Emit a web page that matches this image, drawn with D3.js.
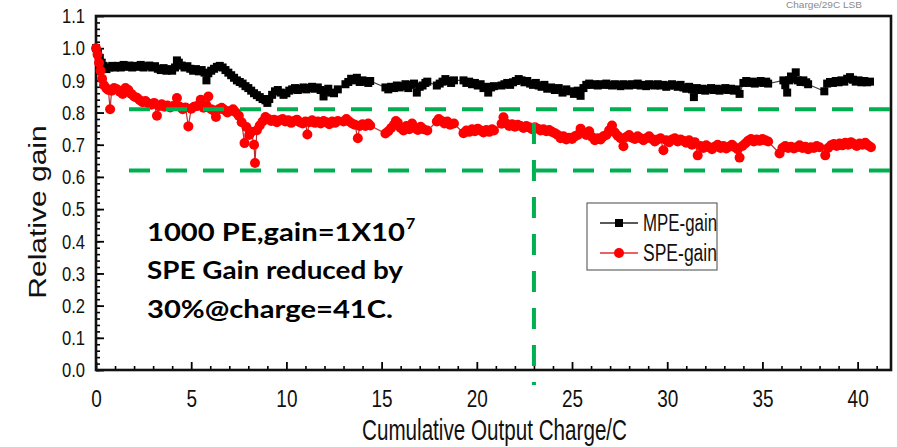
<!DOCTYPE html>
<html>
<head>
<meta charset="utf-8">
<script src="https://cdn.jsdelivr.net/npm/d3@7"></script>
<style>
  body { margin: 0; background: #fff; }
  svg { display: block; }
</style>
</head>
<body>
<script>
// MPE gain vs cumulative charge [charge C, relative gain]
const mpeData = [
  [0,1.00],[0.1,0.985],[0.2,0.97],[0.3,0.955],[0.4,0.945],[0.55,0.935],[0.7,0.94],[0.85,0.945],[1.0,0.94],[1.15,0.945],
  [1.3,0.94],[1.45,0.948],[1.6,0.942],[1.75,0.946],[1.9,0.94],[2.05,0.945],[2.2,0.942],[2.35,0.948],[2.5,0.94],[2.65,0.944],
  [2.8,0.946],[2.95,0.94],[3.1,0.944],[3.25,0.936],[3.4,0.932],[3.55,0.938],[3.7,0.93],[3.85,0.935],[4.0,0.93],[4.15,0.94],
  [4.25,0.962],[4.35,0.955],[4.5,0.946],[4.65,0.94],[4.8,0.944],[4.95,0.936],[5.1,0.93],[5.25,0.935],[5.4,0.928],[5.55,0.932],
  [5.7,0.924],[5.8,0.90],[5.9,0.922],[6.05,0.93],[6.2,0.936],[6.35,0.942],[6.5,0.945],[6.65,0.94],[6.8,0.932],[6.95,0.924],
  [7.1,0.916],[7.25,0.908],[7.4,0.90],[7.55,0.895],[7.7,0.89],[7.85,0.882],[8.0,0.876],[8.15,0.868],[8.3,0.86],[8.45,0.854],
  [8.6,0.848],[8.75,0.842],[8.9,0.838],[9.0,0.83],[9.1,0.842],[9.25,0.855],[9.4,0.866],[9.55,0.87],[9.7,0.862],[9.85,0.855],
  [10.0,0.86],[10.15,0.868],[10.3,0.872],[10.45,0.876],[10.6,0.87],[10.75,0.874],[10.9,0.878],[11.05,0.872],[11.2,0.876],[11.35,0.88],
  [11.5,0.874],[11.65,0.878],[11.8,0.87],[11.95,0.85],[12.05,0.866],[12.2,0.874],[12.35,0.862],[12.5,0.86],[12.7,0.872],
  [13.1,0.888],[13.25,0.895],[13.4,0.905],[13.55,0.90],[13.7,0.908],[13.85,0.895],[14.0,0.90],[14.15,0.896],[14.3,0.892],[14.4,0.898],
  [15.2,0.878],[15.35,0.872],[15.5,0.88],[15.65,0.876],[15.8,0.884],[15.95,0.878],[16.1,0.882],[16.25,0.888],[16.4,0.876],[16.55,0.886],
  [16.7,0.89],[16.85,0.862],[17.0,0.88],[17.15,0.884],[17.3,0.892],[17.4,0.896],
  [17.9,0.884],[18.05,0.89],[18.2,0.896],[18.35,0.904],[18.5,0.898],[18.65,0.892],[18.8,0.90],
  [19.3,0.90],[19.45,0.892],[19.6,0.896],[19.75,0.888],[19.9,0.892],[20.05,0.884],[20.2,0.888],[20.35,0.876],[20.5,0.88],[20.6,0.862],
  [20.75,0.878],[20.9,0.882],
  [21.3,0.884],[21.45,0.888],[21.6,0.892],[21.75,0.886],[21.9,0.894],[22.05,0.898],[22.2,0.904],[22.35,0.90],[22.5,0.894],[22.65,0.898],
  [22.8,0.89],[22.95,0.886],[23.1,0.892],[23.25,0.884],[23.4,0.88],[23.55,0.886],[23.7,0.874],[23.9,0.878],[24.1,0.87],[24.3,0.876],
  [24.5,0.862],[24.7,0.872],[24.9,0.866],[25.1,0.858],[25.3,0.868],[25.45,0.852],[25.6,0.876],[25.75,0.886],[25.9,0.89],[26.05,0.886],
  [26.2,0.888],[26.35,0.884],[26.5,0.888],[26.65,0.886],[26.8,0.89],[26.95,0.886],[27.1,0.884],[27.25,0.888],[27.4,0.886],[27.55,0.882],
  [27.7,0.888],[27.85,0.886],[28.0,0.884],[28.15,0.888],[28.3,0.886],[28.45,0.89],[28.6,0.884],[28.75,0.886],[28.9,0.882],[29.05,0.888],
  [29.2,0.886],[29.35,0.884],[29.5,0.888],[29.65,0.884],[29.8,0.886],[29.95,0.88],[30.1,0.884],[30.25,0.888],[30.4,0.884],[30.55,0.88],
  [30.7,0.886],[30.85,0.878],[31.0,0.874],[31.15,0.88],[31.3,0.872],[31.4,0.848],[31.55,0.876],[31.7,0.87],[31.85,0.874],[32.0,0.868],
  [32.15,0.872],[32.3,0.876],[32.45,0.87],[32.6,0.874],[32.75,0.868],[32.9,0.872],[33.05,0.876],[33.2,0.87],[33.35,0.874],[33.5,0.868],
  [33.65,0.872],[33.8,0.858],[34.0,0.892],[34.15,0.898],[34.3,0.892],[34.45,0.896],[34.6,0.89],[34.75,0.894],[34.9,0.898],[35.05,0.892],
  [35.2,0.896],[35.3,0.89],
  [36.1,0.90],[36.2,0.885],[36.3,0.862],[36.4,0.90],[36.5,0.912],[36.6,0.905],[36.75,0.925],[36.85,0.90],[37.0,0.895],[37.15,0.90],
  [37.3,0.894],[37.4,0.888],
  [38.25,0.866],
  [38.4,0.89],[38.55,0.895],[38.7,0.892],[38.85,0.898],[39.0,0.894],[39.15,0.90],[39.3,0.896],[39.45,0.905],[39.6,0.91],[39.75,0.902],
  [39.9,0.896],[40.05,0.90],[40.2,0.894],[40.35,0.898],[40.5,0.894],[40.65,0.896]
];

// SPE gain vs cumulative charge
const speData = [
  [0,1.00],[0.08,0.98],[0.16,0.955],[0.24,0.93],[0.32,0.905],[0.42,0.885],[0.55,0.875],[0.65,0.87],[0.74,0.81],[0.82,0.868],
  [0.95,0.876],[1.1,0.872],[1.25,0.865],[1.4,0.858],[1.55,0.876],[1.7,0.87],[1.85,0.858],[2.0,0.85],[2.15,0.846],[2.3,0.838],
  [2.45,0.832],[2.6,0.836],[2.75,0.828],[2.9,0.824],[3.05,0.83],[3.2,0.79],[3.3,0.82],[3.45,0.826],[3.6,0.818],[3.75,0.822],
  [3.9,0.816],[4.05,0.82],[4.25,0.845],[4.4,0.818],[4.55,0.81],[4.7,0.816],[4.85,0.757],[5.0,0.812],[5.15,0.818],[5.3,0.82],
  [5.5,0.84],[5.65,0.815],[5.8,0.822],[5.9,0.85],[6.05,0.81],[6.2,0.806],[6.3,0.786],[6.45,0.81],[6.6,0.815],[6.75,0.808],
  [6.9,0.80],[7.05,0.805],[7.2,0.81],[7.35,0.80],[7.5,0.79],[7.65,0.77],[7.8,0.705],[7.9,0.755],[8.05,0.73],[8.15,0.74],
  [8.3,0.70],[8.35,0.643],[8.45,0.745],[8.6,0.76],[8.75,0.772],[8.9,0.786],[9.05,0.78],[9.2,0.774],[9.35,0.778],[9.5,0.77],
  [9.65,0.776],[9.8,0.78],[9.95,0.772],[10.1,0.776],[10.25,0.768],[10.4,0.774],[10.55,0.778],[10.7,0.77],[10.85,0.766],[11.0,0.772],
  [11.1,0.732],[11.2,0.77],[11.35,0.776],[11.5,0.768],[11.65,0.772],[11.8,0.766],[11.95,0.774],[12.1,0.77],[12.25,0.764],[12.4,0.772],
  [12.55,0.768],[12.7,0.774],
  [13.0,0.772],[13.15,0.78],[13.3,0.772],[13.45,0.766],[13.6,0.762],[13.75,0.72],[13.85,0.758],[14.0,0.764],[14.15,0.758],[14.3,0.766],
  [14.4,0.76],
  [15.2,0.735],[15.35,0.742],[15.5,0.752],[15.65,0.762],[15.75,0.774],[15.85,0.768],[16.0,0.752],[16.15,0.744],[16.3,0.758],[16.45,0.748],
  [16.6,0.766],[16.75,0.752],[16.9,0.746],[17.05,0.756],[17.2,0.748],[17.4,0.744],
  [17.9,0.772],[18.0,0.78],[18.15,0.774],[18.3,0.766],[18.45,0.772],[18.6,0.762],[18.8,0.766],
  [19.3,0.736],[19.45,0.744],[19.6,0.74],[19.75,0.748],[19.9,0.742],[20.05,0.75],[20.2,0.744],[20.35,0.738],[20.5,0.746],[20.65,0.74],
  [20.8,0.748],[20.9,0.744],
  [21.3,0.765],[21.4,0.785],[21.55,0.766],[21.7,0.758],[21.85,0.764],[22.0,0.756],[22.15,0.762],[22.3,0.758],[22.45,0.752],[22.6,0.758],
  [22.75,0.754],[22.9,0.748],[23.05,0.754],[23.2,0.75],[23.35,0.744],[23.5,0.748],[23.65,0.742],[23.8,0.746],[23.95,0.74],[24.1,0.736],
  [24.25,0.73],[24.4,0.72],[24.55,0.726],[24.7,0.716],[24.85,0.722],[25.0,0.718],[25.15,0.726],[25.3,0.73],[25.45,0.75],[25.6,0.738],
  [25.75,0.73],[25.9,0.742],[26.05,0.724],[26.2,0.714],[26.35,0.72],[26.5,0.716],[26.65,0.726],[26.8,0.73],[26.95,0.745],[27.1,0.76],
  [27.25,0.738],[27.4,0.728],[27.55,0.72],[27.7,0.695],[27.85,0.724],[28.0,0.73],[28.15,0.722],[28.3,0.718],[28.45,0.726],[28.6,0.72],
  [28.75,0.714],[28.9,0.72],[29.05,0.726],[29.2,0.718],[29.35,0.71],[29.5,0.716],[29.65,0.72],[29.8,0.683],[29.95,0.714],[30.1,0.708],
  [30.25,0.716],[30.4,0.72],[30.55,0.71],[30.7,0.716],[30.85,0.712],[31.0,0.706],[31.15,0.714],[31.3,0.70],[31.45,0.708],[31.6,0.667],
  [31.75,0.696],[31.9,0.69],[32.05,0.698],[32.2,0.692],[32.35,0.686],[32.5,0.694],[32.65,0.70],[32.8,0.69],[32.95,0.696],[33.1,0.688],
  [33.25,0.694],[33.4,0.70],[33.55,0.692],[33.7,0.686],[33.8,0.66],[33.95,0.696],[34.1,0.704],[34.25,0.712],[34.4,0.718],[34.55,0.71],
  [34.7,0.716],[34.85,0.712],[35.0,0.718],[35.15,0.714],[35.3,0.71],
  [35.9,0.673],[36.05,0.69],[36.2,0.696],[36.35,0.69],[36.5,0.694],[36.65,0.688],[36.8,0.692],[36.95,0.698],[37.1,0.69],[37.25,0.694],
  [37.4,0.686],[37.55,0.692],[37.7,0.69],[37.85,0.696],[38.0,0.692],
  [38.3,0.667],
  [38.45,0.69],[38.6,0.698],[38.75,0.702],[38.9,0.696],[39.05,0.704],[39.2,0.698],[39.35,0.706],[39.5,0.70],[39.65,0.708],[39.8,0.702],
  [39.95,0.696],[40.1,0.704],[40.25,0.70],[40.4,0.706],[40.55,0.698],[40.7,0.692]
];

const xTicks = [0, 5, 10, 15, 20, 25, 30, 35, 40];
const yTicks = [0, 0.1, 0.2, 0.3, 0.4, 0.5, 0.6, 0.7, 0.8, 0.9, 1.0, 1.1];
const seriesNames = ["MPE-gain", "SPE-gain"];
const guideGains = [0.81, 0.62];   // green dashed horizontal lines
const guideCharge = 23;            // green dashed vertical line
const noteLines = ["1000 PE,gain=1X10", "SPE Gain reduced by", "30%@charge=41C."];


let canvasW = 897;
let canvasH = 447;
let squeeze = 0.79;   // the source figure is squashed horizontally

let svg = d3.select("body").append("svg")
  .attr("width", canvasW)
  .attr("height", canvasH)
  .style("font-family", "'Liberation Sans', Arial, sans-serif");

let x = d3.scaleLinear().domain([0, 41.7]).range([96, 890]);
let y = d3.scaleLinear().domain([0, 1.1]).range([370, 16]);

// faint caption at the top right
svg.append("text")
  .attr("x", 786).attr("y", 8)
  .attr("font-size", 9)
  .attr("fill", "#8a8a8a")
  .attr("textLength", 76).attr("lengthAdjust", "spacingAndGlyphs")
  .text("Charge/29C LSB");

// minor ticks
svg.append("g")
  .attr("transform", "translate(0,370)")
  .call(d3.axisBottom(x).tickValues(d3.range(0, 42, 1).filter(d => d % 5 != 0)).tickSize(-4).tickFormat(""))
  .call(g => g.select(".domain").remove())
  .call(g => g.selectAll("line").attr("stroke-width", 1.6));

svg.append("g")
  .attr("transform", "translate(96,0)")
  .call(d3.axisLeft(y).tickValues(d3.range(0, 55).map(i => i * 0.02)).tickSize(-4).tickFormat(""))
  .call(g => g.select(".domain").remove())
  .call(g => g.selectAll("line").attr("stroke-width", 1.6));

// major ticks + labels
let xAxis = svg.append("g")
  .attr("transform", "translate(0,370)")
  .call(d3.axisBottom(x).tickValues(xTicks).tickSizeInner(-8).tickSizeOuter(0).tickPadding(20).tickFormat(d3.format("d")));
xAxis.select(".domain").remove();
xAxis.selectAll("line").attr("stroke-width", 1.8);
xAxis.selectAll("text")
  .attr("font-size", 24)
  .attr("fill", "#111")
  .attr("transform", `scale(${squeeze},1)`);

let yAxis = svg.append("g")
  .attr("transform", "translate(96,0)")
  .call(d3.axisLeft(y).tickValues(yTicks).tickSizeInner(-8).tickSizeOuter(0).tickPadding(11).tickFormat(d3.format(".1f")));
yAxis.select(".domain").remove();
yAxis.selectAll("line").attr("stroke-width", 1.8);
yAxis.selectAll("text")
  .attr("font-size", 21)
  .attr("fill", "#111")
  .attr("x", -11 / squeeze)
  .attr("transform", `scale(${squeeze},1)`);

// frame
svg.append("rect")
  .attr("x", 96).attr("y", 16)
  .attr("width", 891 - 96).attr("height", 370 - 16)
  .attr("fill", "none")
  .attr("stroke", "#111")
  .attr("stroke-width", 2.6);

// axis titles
svg.append("text")
  .attr("x", 362).attr("y", 440)
  .attr("font-size", 30)
  .attr("fill", "#111")
  .attr("textLength", 265).attr("lengthAdjust", "spacingAndGlyphs")
  .text("Cumulative Output Charge/C");

svg.append("text")
  .attr("transform", `translate(46,212) scale(${squeeze},1) rotate(-90)`)
  .attr("text-anchor", "middle")
  .attr("font-size", 30)
  .attr("fill", "#111")
  .text("Relative gain");

// series
let line = d3.line().x(d => x(d[0])).y(d => y(d[1]));

svg.append("path")
  .datum(mpeData)
  .attr("d", line)
  .attr("fill", "none")
  .attr("stroke", "#444")
  .attr("stroke-width", 1.2);

svg.append("g")
  .selectAll("rect")
  .data(mpeData)
  .join("rect")
  .attr("x", d => x(d[0]) - 4)
  .attr("y", d => y(d[1]) - 4)
  .attr("width", 8)
  .attr("height", 8)
  .attr("fill", "#000");

svg.append("path")
  .datum(speData)
  .attr("d", line)
  .attr("fill", "none")
  .attr("stroke", "#b83030")
  .attr("stroke-width", 1.2);

svg.append("g")
  .selectAll("circle")
  .data(speData)
  .join("circle")
  .attr("cx", d => x(d[0]))
  .attr("cy", d => y(d[1]))
  .attr("r", 5)
  .attr("fill", "#f00");

// green guide lines
svg.selectAll(".hguide")
  .data(guideGains)
  .join("line")
  .attr("class", "hguide")
  .attr("x1", 129).attr("x2", 897)
  .attr("y1", d => y(d)).attr("y2", d => y(d))
  .attr("stroke", "#00b050")
  .attr("stroke-width", 4)
  .attr("stroke-dasharray", "21,16");

svg.append("line")
  .attr("x1", x(guideCharge)).attr("x2", x(guideCharge))
  .attr("y1", 123).attr("y2", 385)
  .attr("stroke", "#00b050")
  .attr("stroke-width", 4)
  .attr("stroke-dasharray", "21,16");

// legend
let legend = svg.append("g").attr("transform", "translate(587,203)");
legend.append("rect")
  .attr("width", 130).attr("height", 67)
  .attr("fill", "#fff")
  .attr("stroke", "#666")
  .attr("stroke-width", 1.2);

let items = legend.selectAll(".item")
  .data(seriesNames)
  .join("g")
  .attr("class", "item")
  .attr("transform", (d, i) => `translate(0,${20 + i * 30})`);

items.append("line")
  .attr("x1", 13).attr("x2", 51)
  .attr("stroke", (d, i) => i == 0 ? "#222" : "#e03030")
  .attr("stroke-width", 1.3);

items.filter((d, i) => i == 0).append("rect")
  .attr("x", 28).attr("y", -4).attr("width", 8).attr("height", 8)
  .attr("fill", "#000");

items.filter((d, i) => i == 1).append("circle")
  .attr("cx", 32).attr("r", 5)
  .attr("fill", "#f00");

items.append("text")
  .attr("x", 56).attr("y", 8)
  .attr("font-size", 23)
  .attr("fill", "#111")
  .attr("textLength", 74).attr("lengthAdjust", "spacingAndGlyphs")
  .text(d => d);

// annotation
let note = svg.append("g")
  .style("font-family", "Lato, 'Open Sans', sans-serif")
  .attr("font-weight", "bold")
  .attr("font-size", 25)
  .attr("fill", "#000");

note.selectAll("text")
  .data(noteLines)
  .join("text")
  .attr("x", 147)
  .attr("y", (d, i) => [241, 279, 318][i])
  .attr("textLength", (d, i) => [258, 256, 246][i])
  .attr("lengthAdjust", "spacingAndGlyphs")
  .text(d => d);

note.append("text")
  .attr("x", 406).attr("y", 229)
  .attr("font-size", 16)
  .text("7");
</script>
</body>
</html>
